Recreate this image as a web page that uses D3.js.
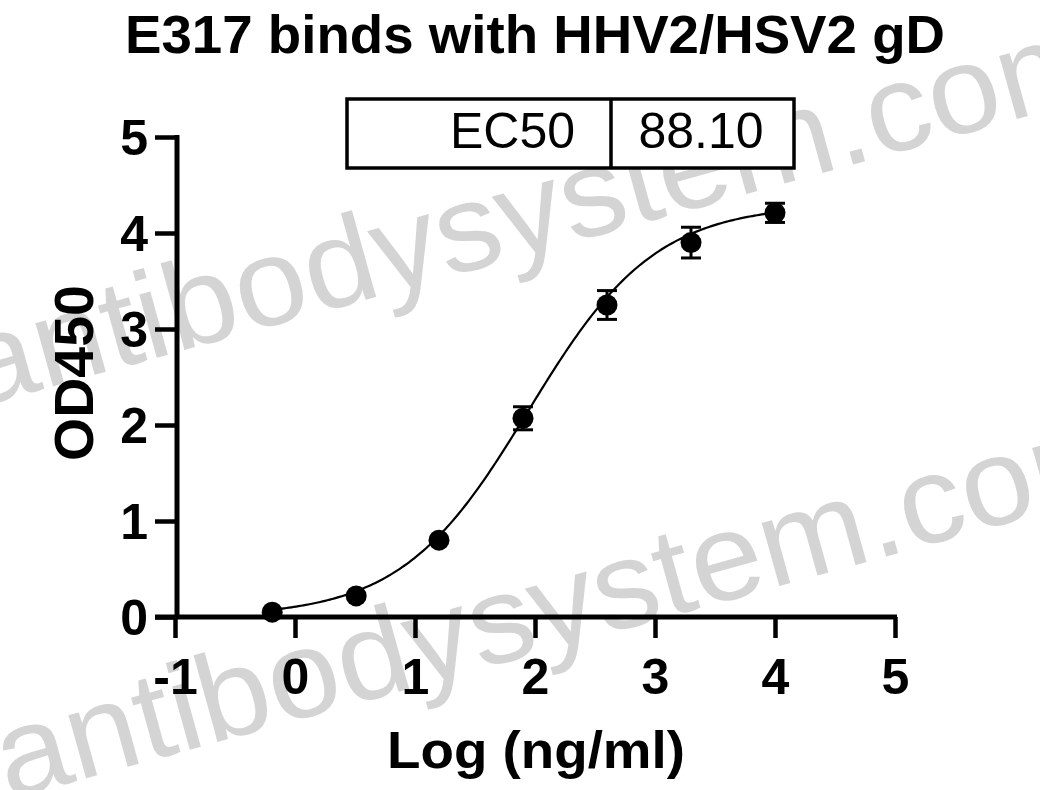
<!DOCTYPE html>
<html>
<head>
<meta charset="utf-8">
<script src="https://cdn.jsdelivr.net/npm/d3@7"></script>
<style>
  html, body { margin: 0; padding: 0; background: #fff; }
  svg { display: block; }
</style>
</head>
<body>
<svg id="chart" width="1040" height="790"></svg>
<script>
// ---- data ----
const title = "E317 binds with HHV2/HSV2 gD";
const xLabel = "Log (ng/ml)";
const yLabel = "OD450";
const logConc = [-0.19, 0.51, 1.2, 1.9, 2.6, 3.3, 4.0];
const od450 = [0.05, 0.22, 0.80, 2.07, 3.25, 3.90, 4.21];
const sdErr = [0.02, 0.03, 0.04, 0.12, 0.15, 0.16, 0.10];
const xTicks = [-1, 0, 1, 2, 3, 4, 5];
const yTicks = [0, 1, 2, 3, 4, 5];
const tableLabels = ["EC50", "88.10"];
// 4PL fit parameters (from the fitted curve)
const fitBottom = 0.0;
const fitTop = 4.3;
const fitLogEC50 = Math.log10(88.10);
const fitHill = 0.82;
const watermark = "antibodysystem.com";

const svg = d3.select("#chart");
const FONT = "'Liberation Sans', Arial, Helvetica, sans-serif";

// watermark (behind)
const wm = svg.append("g").attr("fill", "#d4d4d4").attr("font-family", FONT).attr("font-size", 124);
[[-25, 408], [8, 800]].forEach(([x, y]) => {
  wm.append("text")
    .attr("transform", `translate(${x},${y}) rotate(-15.5)`)
    .attr("textLength", 1180)
    .attr("lengthAdjust", "spacingAndGlyphs")
    .text(watermark);
});

const x = d3.scaleLinear().domain([-1, 5]).range([175, 895]);
const y = d3.scaleLinear().domain([0, 5]).range([617, 137]);

// title
svg.append("text")
  .attr("x", 535).attr("y", 53)
  .attr("text-anchor", "middle")
  .attr("font-family", FONT).attr("font-weight", "bold").attr("font-size", 53)
  .attr("textLength", 820).attr("lengthAdjust", "spacingAndGlyphs")
  .text(title);

// y axis
const yAxis = d3.axisLeft(y).tickValues(yTicks).tickSize(22).tickSizeOuter(0).tickPadding(7)
  .tickFormat(d3.format("d"));
const gy = svg.append("g").attr("transform", `translate(${x(-1) + 2},0)`).call(yAxis);
gy.select(".domain").attr("stroke", "#000").attr("stroke-width", 5)
  .attr("d", `M0,${y(5) - 2}V${y(0) + 2}`);
gy.selectAll(".tick line").attr("stroke", "#000").attr("stroke-width", 4.5);
gy.selectAll(".tick text").attr("font-family", FONT).attr("font-weight", "bold")
  .attr("font-size", 50).attr("fill", "#000").attr("dy", "0.34em");

// x axis
const xAxis = d3.axisBottom(x).tickValues(xTicks).tickSize(21).tickSizeOuter(0).tickPadding(20)
  .tickFormat(d3.format("d"));
const gx = svg.append("g").attr("transform", `translate(0,${y(0)})`).call(xAxis);
gx.select(".domain").attr("stroke", "#000").attr("stroke-width", 5)
  .attr("d", `M${x(-1) - 20},0H${x(5) + 2}`);
gx.selectAll(".tick line").attr("stroke", "#000").attr("stroke-width", 4.5);
gx.selectAll(".tick text").attr("font-family", FONT).attr("font-weight", "bold")
  .attr("font-size", 50).attr("fill", "#000");
gx.selectAll(".tick text").text(d => d < 0 ? "-" + Math.abs(d) : d);

// axis titles
svg.append("text")
  .attr("x", 536).attr("y", 768)
  .attr("text-anchor", "middle")
  .attr("font-family", FONT).attr("font-weight", "bold").attr("font-size", 52)
  .attr("textLength", 298).attr("lengthAdjust", "spacingAndGlyphs")
  .text(xLabel);
svg.append("text")
  .attr("transform", `translate(93,373) rotate(-90)`)
  .attr("text-anchor", "middle")
  .attr("font-family", FONT).attr("font-weight", "bold").attr("font-size", 55)
  .attr("textLength", 176).attr("lengthAdjust", "spacingAndGlyphs")
  .text(yLabel);

// fitted curve
const fit = v => fitBottom + (fitTop - fitBottom) / (1 + Math.pow(10, (fitLogEC50 - v) * fitHill));
const xs = d3.range(logConc[0], logConc[logConc.length - 1] + 1e-9, 0.02);
svg.append("path")
  .datum(xs)
  .attr("fill", "none").attr("stroke", "#000").attr("stroke-width", 2.2)
  .attr("d", d3.line().x(d => x(d)).y(d => y(fit(d))).curve(d3.curveMonotoneX));

// error bars
const pts = logConc.map((v, i) => ({ x: v, y: od450[i], e: sdErr[i] }));
const eb = svg.append("g").attr("stroke", "#000").attr("stroke-width", 3);
pts.filter(d => d.e > 0.06).forEach(d => {
  eb.append("line").attr("x1", x(d.x)).attr("x2", x(d.x)).attr("y1", y(d.y - d.e)).attr("y2", y(d.y + d.e));
  eb.append("line").attr("x1", x(d.x) - 10).attr("x2", x(d.x) + 10).attr("y1", y(d.y - d.e)).attr("y2", y(d.y - d.e));
  eb.append("line").attr("x1", x(d.x) - 10).attr("x2", x(d.x) + 10).attr("y1", y(d.y + d.e)).attr("y2", y(d.y + d.e));
});

// points
svg.append("g").selectAll("circle").data(pts).join("circle")
  .attr("cx", d => x(d.x)).attr("cy", d => y(d.y)).attr("r", 10.5).attr("fill", "#000");

// EC50 table
const tbl = svg.append("g");
tbl.append("rect").attr("x", 347).attr("y", 99).attr("width", 447).attr("height", 69)
  .attr("fill", "#fff").attr("stroke", "#000").attr("stroke-width", 3.5);
tbl.append("line").attr("x1", 611).attr("x2", 611).attr("y1", 99).attr("y2", 168)
  .attr("stroke", "#000").attr("stroke-width", 3.5);
tbl.append("text").attr("x", 575).attr("y", 148).attr("text-anchor", "end")
  .attr("font-family", FONT).attr("font-size", 50).text(tableLabels[0]);
tbl.append("text").attr("x", 701).attr("y", 148).attr("text-anchor", "middle")
  .attr("font-family", FONT).attr("font-size", 50).text(tableLabels[1]);
</script>
</body>
</html>
